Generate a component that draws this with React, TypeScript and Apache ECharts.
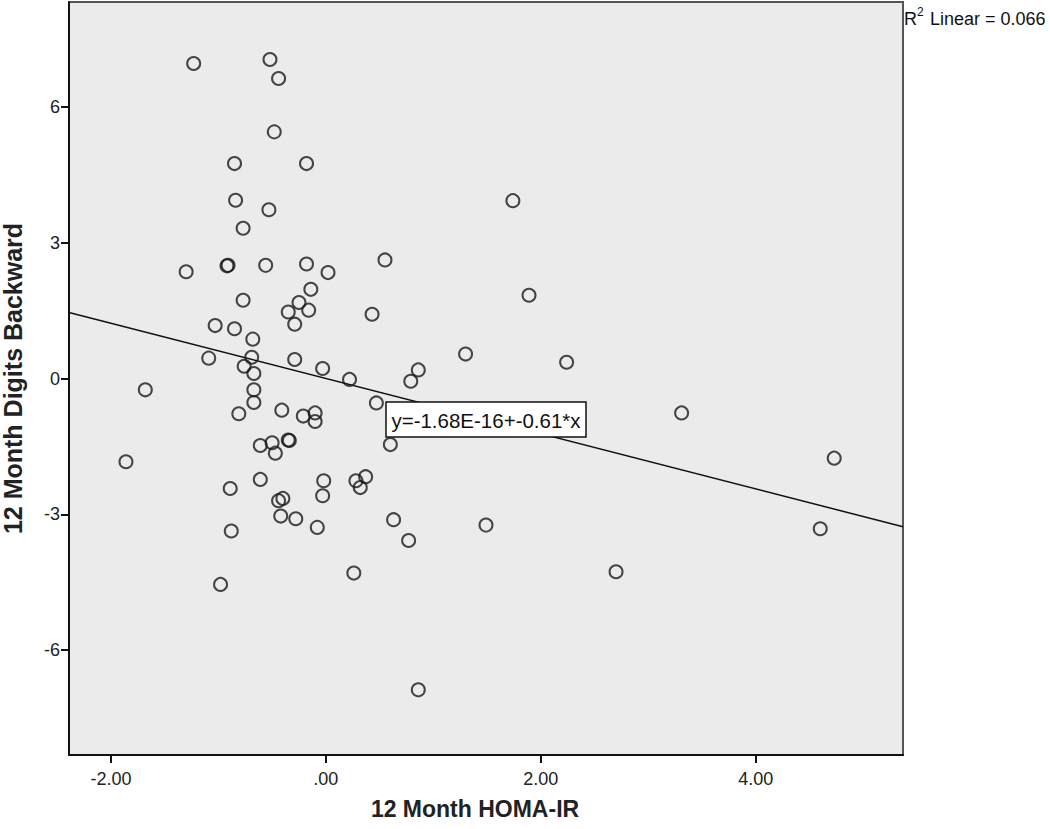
import React, { useEffect, useRef } from "react";
import * as echarts from "echarts";

const xValues = [
  -1.23, -0.52, -0.44, -0.48, -0.85, -0.18, -0.84, -0.53, -0.77, 1.74,
  -1.30, -0.92, -0.91, -0.56, -0.18, 0.02, 0.55, -0.14, 1.89, -0.77,
  -0.25, -0.35, -0.16, 0.43, -1.03, -0.85, -0.29, -0.68, -1.09, -0.69,
  -0.29, 1.30, 2.24, -0.76, -0.67, -0.03, 0.86, 0.22, 0.79, -1.68,
  -0.67, -0.67, 0.47, -0.81, -0.41, -0.21, -0.10, -0.10, 3.31, 0.60,
  -0.61, -0.50, -0.47, -0.35, -0.34, -1.86, 4.73, -0.61, -0.02, -0.89,
  0.28, 0.37, 0.32, -0.03, -0.44, -0.40, -0.42, -0.28, -0.08, -0.88,
  0.63, 0.77, 1.49, 4.60, -0.98, 0.26, 2.70, 0.86,
];
const yValues = [
  6.96, 7.05, 6.63, 5.45, 4.75, 4.75, 3.94, 3.73, 3.32, 3.93,
  2.36, 2.49, 2.50, 2.50, 2.53, 2.34, 2.62, 1.97, 1.84, 1.73,
  1.68, 1.47, 1.51, 1.42, 1.17, 1.10, 1.20, 0.87, 0.45, 0.47,
  0.42, 0.54, 0.36, 0.27, 0.11, 0.22, 0.19, -0.02, -0.06, -0.25,
  -0.25, -0.53, -0.54, -0.78, -0.70, -0.83, -0.76, -0.95, -0.76, -1.46,
  -1.48, -1.42, -1.65, -1.36, -1.37, -1.84, -1.76, -2.23, -2.26, -2.43,
  -2.26, -2.17, -2.41, -2.59, -2.70, -2.65, -3.04, -3.10, -3.29, -3.37,
  -3.12, -3.58, -3.24, -3.32, -4.55, -4.30, -4.27, -6.88,
];

const xTicks = [-2, 0, 2, 4];
const xTickLabels = ["-2.00", ".00", "2.00", "4.00"];
const yTicks = [-6, -3, 0, 3, 6];
const yTickLabels = ["-6", "-3", "0", "3", "6"];

const xMin = -2.39;
const xMax = 5.37;
const yMin = -8.32;
const yMax = 8.32;

const fitIntercept = -1.68e-16;
const fitSlope = -0.61;
const fitLabel = "y=-1.68E-16+-0.61*x";
const r2Value = "0.066";

const xTitle = "12 Month HOMA-IR";
const yTitle = "12 Month Digits Backward";

const FONT = "'Liberation Sans', Arial, sans-serif";

export default function App() {
  const ref = useRef<HTMLDivElement>(null);

  useEffect(() => {
    if (!ref.current) return;
    const chart = echarts.init(ref.current, null, { renderer: "svg" });
    const points = xValues.map((x, i) => [x, yValues[i]]);
    const fitLine = [
      [xMin, fitIntercept + fitSlope * xMin],
      [xMax, fitIntercept + fitSlope * xMax],
    ];
    const xLabelMap: Record<string, string> = {};
    xTicks.forEach((v, i) => (xLabelMap[String(v)] = xTickLabels[i]));
    const yLabelMap: Record<string, string> = {};
    yTicks.forEach((v, i) => (yLabelMap[String(v)] = yTickLabels[i]));

    chart.setOption({
      animation: false,
      backgroundColor: "#ffffff",
      textStyle: { fontFamily: FONT },
      grid: {
        left: 69,
        top: 2,
        right: 147,
        bottom: 74,
        containLabel: false,
        outerBoundsMode: "none",
        show: true,
        backgroundColor: "#ebebeb",
        borderColor: "#555555",
        borderWidth: 2,
      },
      xAxis: {
        type: "value",
        min: xMin,
        max: xMax,
        name: xTitle,
        nameLocation: "middle",
        nameGap: 42,
        nameTextStyle: {
          fontFamily: FONT,
          fontWeight: "bold",
          fontSize: 23,
          color: "#222",
          padding: [0, 22, 0, 0],
        },
        axisLine: { show: true, onZero: false, lineStyle: { color: "#111", width: 2 } },
        axisTick: {
          show: true,
          length: 8,
          customValues: xTicks,
          lineStyle: { color: "#111", width: 2 },
        },
        axisLabel: {
          customValues: xTicks,
          margin: 15,
          fontSize: 18,
          color: "#222",
          fontFamily: FONT,
          formatter: (v: number) => xLabelMap[String(v)] ?? "",
        },
        splitLine: { show: false },
      },
      yAxis: {
        type: "value",
        min: yMin,
        max: yMax,
        name: yTitle,
        nameLocation: "middle",
        nameGap: 44,
        nameRotate: 90,
        nameTextStyle: {
          fontFamily: FONT,
          fontWeight: "bold",
          fontSize: 25,
          color: "#222",
        },
        axisLine: { show: true, onZero: false, lineStyle: { color: "#111", width: 2 } },
        axisTick: {
          show: true,
          length: 8,
          customValues: yTicks,
          lineStyle: { color: "#111", width: 2 },
        },
        axisLabel: {
          customValues: yTicks,
          margin: 9,
          fontSize: 18,
          color: "#222",
          fontFamily: FONT,
          formatter: (v: number) => yLabelMap[String(v)] ?? "",
        },
        splitLine: { show: false },
      },
      series: [
        {
          type: "line",
          data: fitLine,
          symbol: "none",
          lineStyle: { color: "#111", width: 1.5 },
          z: 2,
        },
        {
          type: "scatter",
          data: points,
          symbol: "circle",
          symbolSize: 13,
          itemStyle: {
            color: "rgba(0,0,0,0)",
            borderColor: "#1a1a1a",
            borderWidth: 2,
          },
          z: 3,
        },
      ],
      graphic: [
        {
          type: "rect",
          shape: { x: 386, y: 402, width: 200, height: 35 },
          style: { fill: "#ffffff", stroke: "#111", lineWidth: 1.5 },
          z: 10,
        },
        {
          type: "text",
          x: 486,
          y: 420,
          style: {
            text: fitLabel,
            fontFamily: FONT,
            fontSize: 20.5,
            fill: "#111",
            textAlign: "center",
            textVerticalAlign: "middle",
          },
          z: 11,
        },
        {
          type: "text",
          x: 904,
          y: 19,
          style: {
            text: "R",
            fontFamily: FONT,
            fontSize: 18,
            fill: "#111",
            textVerticalAlign: "middle",
          },
        },
        {
          type: "text",
          x: 917,
          y: 12,
          style: {
            text: "2",
            fontFamily: FONT,
            fontSize: 12,
            fill: "#111",
            textVerticalAlign: "middle",
          },
        },
        {
          type: "text",
          x: 925,
          y: 19,
          style: {
            text: " Linear = " + r2Value,
            fontFamily: FONT,
            fontSize: 18,
            fill: "#111",
            textVerticalAlign: "middle",
          },
        },
      ],
    });
    return () => chart.dispose();
  }, []);

  return (
    <div
      ref={ref}
      style={{ position: "absolute", left: 0, top: 0, width: 1050, height: 829 }}
    />
  );
}
